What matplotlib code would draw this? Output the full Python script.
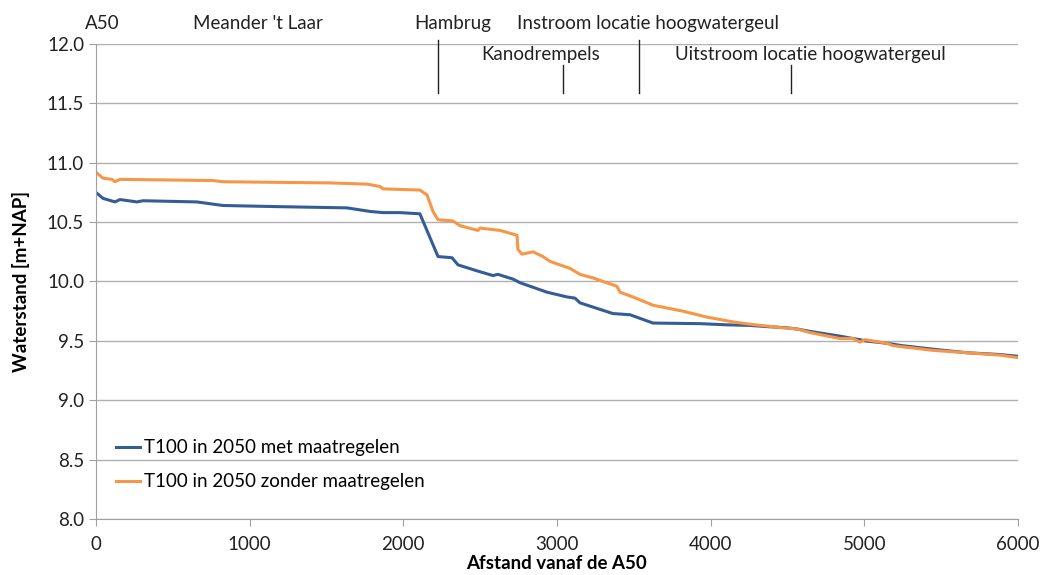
import matplotlib
matplotlib.use("Agg")
import matplotlib.pyplot as plt

plt.rcParams['font.family'] = ['Lato', 'DejaVu Sans']

# distance along the river [m] and water level [m+NAP]
x_met = [0, 46, 124, 156, 267, 306, 657, 826, 1197, 1633, 1783, 1868, 1978, 2108, 2226,
         2317, 2356, 2479, 2583, 2616, 2714, 2759, 2935, 3065, 3117, 3150, 3364, 3475, 3625,
         3930, 4106, 4256, 4366, 4497, 4562, 4646, 4841, 4926, 4972, 5004, 5147, 5245, 5447,
         5668, 5883, 6000]
y_met = [10.75, 10.70, 10.67, 10.69, 10.67, 10.68, 10.67, 10.64, 10.63, 10.62, 10.59, 10.58,
         10.58, 10.57, 10.21, 10.20, 10.14, 10.09, 10.05, 10.06, 10.02, 9.99, 9.91, 9.87, 9.86,
         9.82, 9.73, 9.72, 9.65, 9.645, 9.635, 9.63, 9.62, 9.61, 9.60, 9.58, 9.54, 9.52, 9.51,
         9.50, 9.48, 9.46, 9.43, 9.40, 9.385, 9.37]

x_zonder = [0, 46, 104, 124, 156, 761, 826, 1523, 1764, 1848, 1868, 2108, 2154, 2193, 2226,
            2323, 2369, 2486, 2499, 2629, 2740, 2746, 2772, 2844, 2909, 2954, 3085, 3150, 3234,
            3390, 3410, 3494, 3625, 3820, 3976, 4145, 4256, 4471, 4562, 4646, 4841, 4926, 4972,
            5004, 5147, 5186, 5245, 5317, 5447, 5668, 5883, 5993]
y_zonder = [10.92, 10.87, 10.86, 10.84, 10.86, 10.85, 10.84, 10.83, 10.82, 10.80, 10.78, 10.77,
            10.73, 10.59, 10.52, 10.51, 10.47, 10.43, 10.45, 10.43, 10.39, 10.27, 10.23, 10.25,
            10.21, 10.17, 10.11, 10.06, 10.03, 9.96, 9.91, 9.87, 9.80, 9.75, 9.70, 9.66, 9.64,
            9.61, 9.60, 9.57, 9.52, 9.52, 9.49, 9.51, 9.48, 9.46, 9.45, 9.44, 9.42, 9.40, 9.38,
            9.36]

# locations marked above the plot
loc_names = ["A50", "Meander 't Laar", "Hambrug", "Instroom locatie hoogwatergeul",
             "Kanodrempels", "Uitstroom locatie hoogwatergeul"]
loc_x = [0, 1054, 2320, 3590, 2895, 4650]
loc_row = [0, 0, 0, 0, 1, 1]
marker_x = [2226, 3039, 3534, 4523]
marker_row = [0, 1, 0, 1]

FS = 13.5

fig = plt.figure(figsize=(10.43, 5.75), dpi=100)
ax = fig.add_axes([0.092, 0.0974, 0.884, 0.8261])

ax.plot(x_met, y_met, color='#345d96', lw=2.2, label='T100 in 2050 met maatregelen')
ax.plot(x_zonder, y_zonder, color='#f79646', lw=2.2, label='T100 in 2050 zonder maatregelen')

ax.set_xlim(0, 6000)
ax.set_ylim(8.0, 12.0)
ax.set_xticks(range(0, 6001, 1000))
ax.set_yticks([8.0 + 0.5 * i for i in range(9)])
ax.set_yticklabels(['%.1f' % (8.0 + 0.5 * i) for i in range(9)])
ax.grid(axis='y', color='#b0b0b0', lw=1.0)
ax.set_axisbelow(True)
for s in ['top', 'right']:
    ax.spines[s].set_visible(False)
for s in ['left', 'bottom']:
    ax.spines[s].set_color('#a0a0a0')
ax.tick_params(axis='both', colors='#a0a0a0', labelcolor='#222222', labelsize=FS, length=5)
ax.tick_params(axis='x', pad=7)

ax.set_xlabel('Afstand vanaf de A50', fontsize=FS, fontweight='bold', labelpad=2)
ax.set_ylabel('Waterstand [m+NAP]', fontsize=FS, fontweight='bold', labelpad=12)

row_y = [12.17, 11.91]
for name, lx, r in zip(loc_names, loc_x, loc_row):
    ha = 'left' if lx == 0 else 'center'
    xx = -70 if lx == 0 else lx
    ax.text(xx, row_y[r], name, ha=ha, va='center', fontsize=FS, color='#222222', clip_on=False)
top_y = [12.03, 11.82]
for mx, r in zip(marker_x, marker_row):
    ax.plot([mx, mx], [11.59, top_y[r]], color='#222222', lw=1.0, clip_on=False)

ax.legend(loc='lower left', bbox_to_anchor=(0.003, 0.025), frameon=False, fontsize=FS,
          handlelength=1.3, handletextpad=0.2, labelspacing=0.9)

fig.savefig('out.png', dpi=100)
